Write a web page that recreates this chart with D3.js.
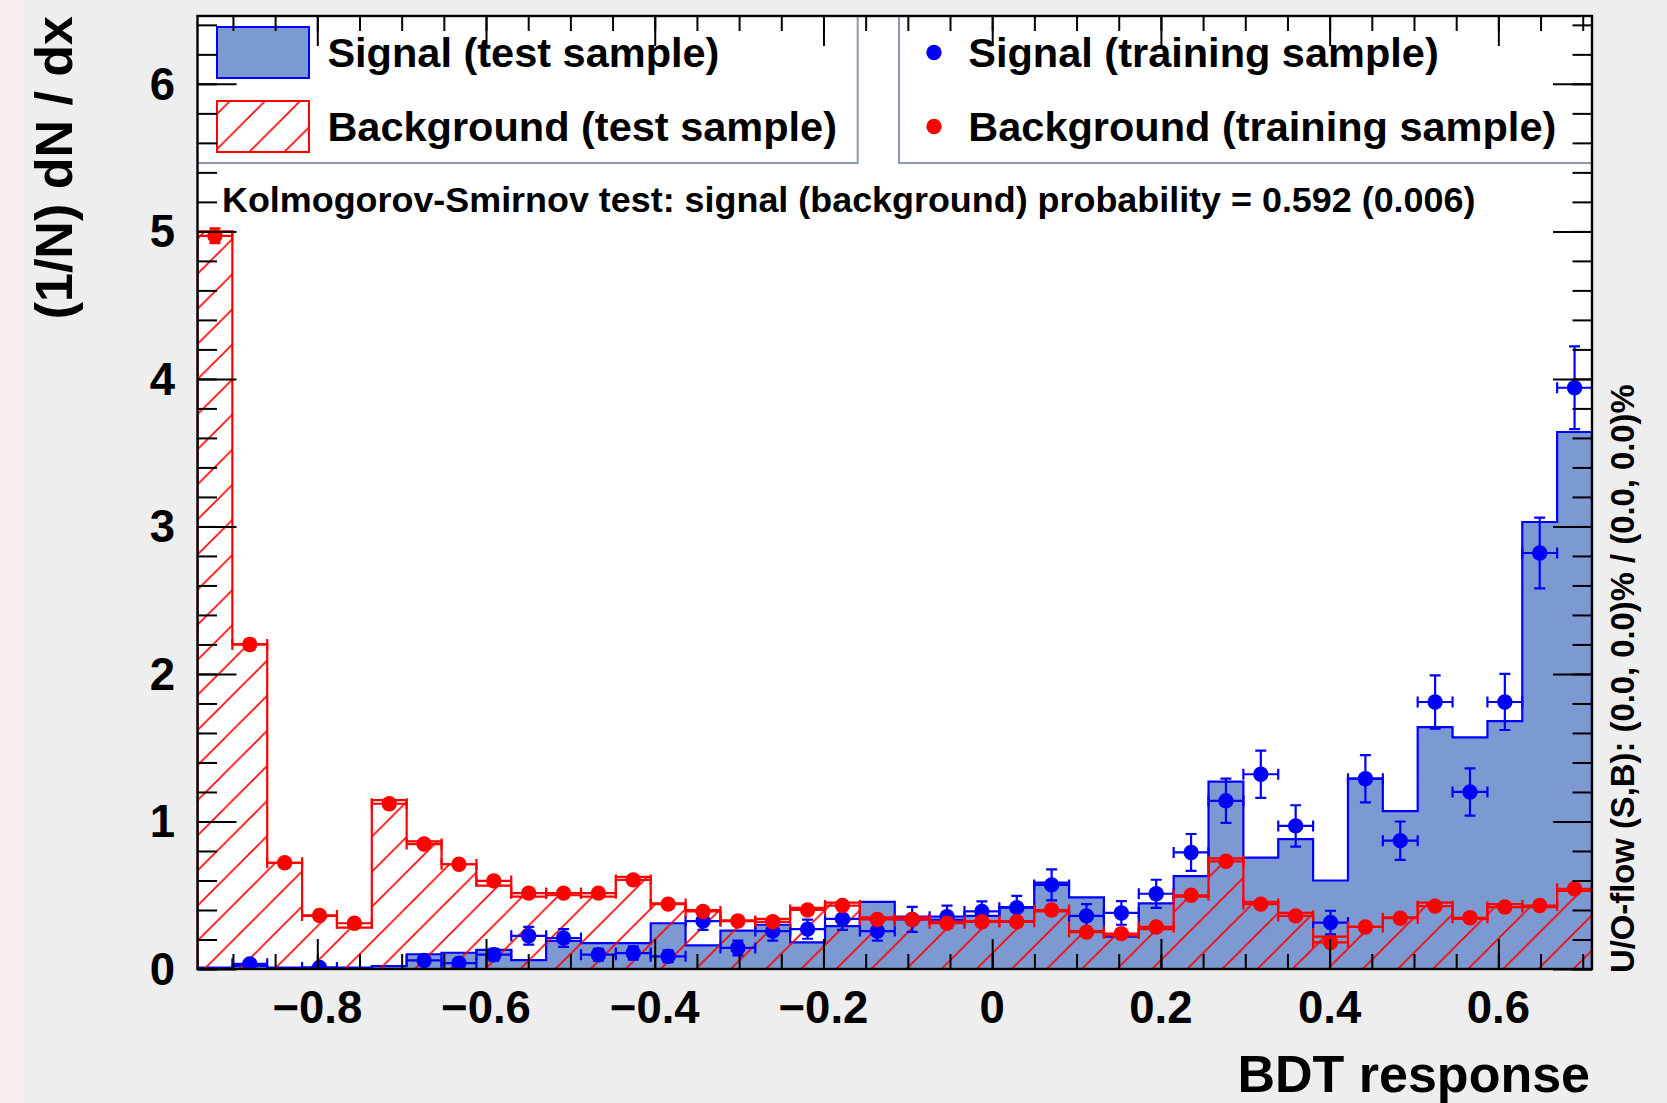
<!DOCTYPE html>
<html>
<head>
<meta charset="utf-8">
<script src="https://cdn.jsdelivr.net/npm/d3@7"></script>
<style>
  html, body { margin: 0; padding: 0; background: #eeeeee; }
  svg { display: block; }
  text { font-family: "Liberation Sans", Arial, Helvetica, sans-serif; font-weight: bold; fill: #000; }
</style>
</head>
<body>
<svg id="chart" width="1667" height="1103"></svg>
<script>
// ---- binning of the BDT response ----
const binLow = -0.942;
const binHigh = 0.711;
const nBins = 40;
const yMax = 6.46;

// ---- signal, test sample (normalised histogram) ----
const signalTest = [
  0.01, 0.02, 0.01, 0.01, 0.01, 0.02, 0.10, 0.11, 0.13, 0.06,
  0.19, 0.175, 0.175, 0.31, 0.16, 0.26, 0.30, 0.18, 0.29, 0.455,
  0.355, 0.335, 0.36, 0.42, 0.585, 0.485, 0.22, 0.445, 0.63, 1.27,
  0.755, 0.88, 0.60, 1.29, 1.07, 1.64, 1.57, 1.68, 3.03, 3.64
];

// ---- background, test sample (normalised histogram) ----
const backgroundTest = [
  5.00, 2.20, 0.72, 0.36, 0.28, 1.145, 0.865, 0.71, 0.565, 0.49,
  0.50, 0.49, 0.625, 0.445, 0.40, 0.33, 0.34, 0.415, 0.45, 0.35,
  0.35, 0.32, 0.325, 0.325, 0.39, 0.257, 0.227, 0.27, 0.49, 0.75,
  0.456, 0.38, 0.22, 0.285, 0.35, 0.45, 0.34, 0.44, 0.42, 0.53
];

// ---- signal, training sample (points, null = empty bin) ----
const signalTrain = [
  null, 0.035, null, 0.01, null, null, 0.058, 0.04, 0.097, 0.225,
  0.21, 0.097, 0.108, 0.086, 0.325, 0.143, 0.257, 0.27, 0.34, 0.257,
  0.336, 0.355, 0.39, 0.416, 0.57, 0.36, 0.38, 0.51, 0.79, 1.14,
  1.32, 0.97, 0.315, 1.29, 0.87, 1.81, 1.20, 1.81, 2.82, 3.94
];
const signalTrainErr = [
  0, 0.025, 0, 0.012, 0, 0, 0.03, 0.025, 0.04, 0.06,
  0.06, 0.04, 0.045, 0.04, 0.06, 0.05, 0.065, 0.065, 0.075, 0.065,
  0.085, 0.074, 0.068, 0.08, 0.105, 0.08, 0.08, 0.095, 0.125, 0.15,
  0.16, 0.14, 0.08, 0.16, 0.13, 0.18, 0.16, 0.19, 0.24, 0.28
];

// ---- background, training sample (points) ----
const backgroundTrain = [
  4.97, 2.20, 0.72, 0.363, 0.31, 1.12, 0.847, 0.71, 0.597, 0.514,
  0.514, 0.514, 0.604, 0.44, 0.39, 0.325, 0.32, 0.40, 0.43, 0.336,
  0.336, 0.31, 0.32, 0.32, 0.40, 0.25, 0.24, 0.285, 0.50, 0.73,
  0.44, 0.36, 0.18, 0.285, 0.344, 0.426, 0.347, 0.42, 0.43, 0.544
];
const backgroundTrainErr = [
  0.05, 0.035, 0.02, 0.015, 0.014, 0.025, 0.02, 0.02, 0.018, 0.017,
  0.017, 0.017, 0.018, 0.015, 0.015, 0.014, 0.014, 0.015, 0.016, 0.014,
  0.014, 0.013, 0.014, 0.014, 0.015, 0.012, 0.012, 0.013, 0.017, 0.02,
  0.015, 0.014, 0.01, 0.013, 0.014, 0.015, 0.014, 0.015, 0.015, 0.017
];

// ---- axis ticks and labels ----
const xMajorTicks = [-0.8, -0.6, -0.4, -0.2, 0, 0.2, 0.4, 0.6];
const xTickLabels = ["\u22120.8", "\u22120.6", "\u22120.4", "\u22120.2", "0", "0.2", "0.4", "0.6"];
const yMajorTicks = [0, 1, 2, 3, 4, 5, 6];
const yTickLabels = ["0", "1", "2", "3", "4", "5", "6"];

// ---- texts ----
const xTitle = "BDT response";
const yTitle = "(1/N) dN / dx";
const ksText = "Kolmogorov-Smirnov test: signal (background) probability = 0.592 (0.006)";
const flowText = "U/O-flow (S,B): (0.0, 0.0)% / (0.0, 0.0)%";
const legendLeft = ["Signal (test sample)", "Background (test sample)"];
const legendRight = ["Signal (training sample)", "Background (training sample)"];

// ---- styles ----
const sigFill = "#7d99d1", sigLine = "#0000ff", bkgLine = "#ff0000";
const frame = { left: 197.5, right: 1592, top: 16, bottom: 969 };

const svg = d3.select("#chart");
const x = d3.scaleLinear().domain([binLow, binHigh]).range([frame.left, frame.right]);
const y = d3.scaleLinear().domain([0, yMax]).range([frame.bottom, frame.top]);
const edges = d3.range(nBins + 1).map(i => binLow + i * (binHigh - binLow) / nBins);

// canvas
svg.append("rect").attr("width", 1667).attr("height", 1103).attr("fill", "#eeeeee");
svg.append("rect").attr("width", 23).attr("height", 1103).attr("fill", "#f5eeea");
svg.append("rect")
  .attr("x", frame.left).attr("y", frame.top)
  .attr("width", frame.right - frame.left).attr("height", frame.bottom - frame.top)
  .attr("fill", "#ffffff");

const defs = svg.append("defs");
defs.append("clipPath").attr("id", "plotClip").append("rect")
  .attr("x", frame.left).attr("y", frame.top)
  .attr("width", frame.right - frame.left).attr("height", frame.bottom - frame.top);

// 45 degree hatch for the background histogram
const P = 35.1;
const hatch = defs.append("pattern").attr("id", "hatch")
  .attr("patternUnits", "userSpaceOnUse")
  .attr("x", 15.1).attr("y", 0).attr("width", P).attr("height", P);
hatch.append("path")
  .attr("d", `M-2,2 L2,-2 M0,${P} L${P},0 M${P - 2},${P + 2} L${P + 2},${P - 2}`)
  .attr("stroke", bkgLine).attr("stroke-width", 1.6).attr("fill", "none");

// histograms
function stepPoints(vals) {
  const pts = [[edges[0], 0]];
  vals.forEach((v, i) => { pts.push([edges[i], v]); pts.push([edges[i + 1], v]); });
  pts.push([edges[nBins], 0]);
  return pts;
}
const stepLine = d3.line().x(d => x(d[0])).y(d => y(d[1]));
const plot = svg.append("g").attr("clip-path", "url(#plotClip)");

plot.append("path").attr("d", stepLine(stepPoints(signalTest)))
  .attr("fill", sigFill).attr("stroke", "none");
plot.append("path").attr("d", stepLine(stepPoints(signalTest)))
  .attr("fill", "none").attr("stroke", sigLine).attr("stroke-width", 2.2);
plot.append("path").attr("d", stepLine(stepPoints(backgroundTest)))
  .attr("fill", "url(#hatch)").attr("stroke", bkgLine).attr("stroke-width", 2.2);

// training points with error bars
const cap = 5.5, markerR = 7.7;
function drawPoints(vals, errs, color) {
  const g = plot.append("g").attr("stroke", color).attr("stroke-width", 2.2).attr("fill", color);
  vals.forEach((v, i) => {
    if (v === null) return;
    const cx = x((edges[i] + edges[i + 1]) / 2);
    const cy = y(v);
    const xl = x(edges[i]), xr = x(edges[i + 1]);
    const yt = y(v + errs[i]), yb = y(v - errs[i]);
    const p = d3.path();
    p.moveTo(xl, cy); p.lineTo(xr, cy);
    p.moveTo(xl, cy - cap); p.lineTo(xl, cy + cap);
    p.moveTo(xr, cy - cap); p.lineTo(xr, cy + cap);
    p.moveTo(cx, yt); p.lineTo(cx, yb);
    p.moveTo(cx - cap, yt); p.lineTo(cx + cap, yt);
    p.moveTo(cx - cap, yb); p.lineTo(cx + cap, yb);
    g.append("path").attr("d", p.toString()).attr("fill", "none");
    g.append("circle").attr("cx", cx).attr("cy", cy).attr("r", markerR).attr("stroke", "none");
  });
}
drawPoints(signalTrain, signalTrainErr, sigLine);
drawPoints(backgroundTrain, backgroundTrainErr, bkgLine);

// legends
const legBottom = 163;
const legStroke = "#8c99ae";
svg.append("path")
  .attr("d", `M${frame.left},${legBottom} L857.7,${legBottom} L857.7,${frame.top}`)
  .attr("fill", "none").attr("stroke", legStroke).attr("stroke-width", 2);
svg.append("path")
  .attr("d", `M899,${frame.top} L899,${legBottom} L${frame.right},${legBottom}`)
  .attr("fill", "none").attr("stroke", legStroke).attr("stroke-width", 2);

const rowY = [52.5, 126.5];
svg.append("rect").attr("x", 217).attr("y", rowY[0] - 25.5).attr("width", 92).attr("height", 51)
  .attr("fill", sigFill).attr("stroke", sigLine).attr("stroke-width", 2);
svg.append("rect").attr("x", 217).attr("y", rowY[1] - 25.5).attr("width", 92).attr("height", 51)
  .attr("fill", "url(#hatch)").attr("stroke", bkgLine).attr("stroke-width", 2);
legendLeft.forEach((t, i) => {
  svg.append("text").attr("x", 327.4).attr("y", rowY[i] + 14.8)
    .attr("font-size", 41.5).text(t);
});
[sigLine, bkgLine].forEach((c, i) => {
  svg.append("circle").attr("cx", 934).attr("cy", rowY[i]).attr("r", markerR).attr("fill", c);
});
legendRight.forEach((t, i) => {
  svg.append("text").attr("x", 968.3).attr("y", rowY[i] + 14.8)
    .attr("font-size", 41.5).text(t);
});

// KS test line
svg.append("text").attr("x", 222).attr("y", 212).attr("font-size", 35.9).text(ksText);

// axis ticks (inward, on all four sides)
const xMinor = d3.range(-18, 15).map(k => k * 0.05);
const yMinor = d3.range(0, 33).map(k => k * 0.2);
function tickAxis(axis, transform, values, size) {
  const g = svg.append("g").attr("transform", transform)
    .call(axis.tickValues(values).tickSize(size).tickSizeOuter(0).tickFormat(""));
  g.select(".domain").remove();
  g.selectAll(".tick line").attr("stroke", "#000").attr("stroke-width", 2);
  g.selectAll(".tick text").remove();
}
tickAxis(d3.axisBottom(x), `translate(0,${frame.bottom})`, xMinor, -15);
tickAxis(d3.axisBottom(x), `translate(0,${frame.bottom})`, xMajorTicks, -30);
tickAxis(d3.axisTop(x), `translate(0,${frame.top})`, xMinor, -15);
tickAxis(d3.axisTop(x), `translate(0,${frame.top})`, xMajorTicks, -30);
tickAxis(d3.axisLeft(y), `translate(${frame.left},0)`, yMinor, -19.5);
tickAxis(d3.axisLeft(y), `translate(${frame.left},0)`, yMajorTicks, -39);
tickAxis(d3.axisRight(y), `translate(${frame.right},0)`, yMinor, -19.5);
tickAxis(d3.axisRight(y), `translate(${frame.right},0)`, yMajorTicks, -39);

// frame
svg.append("rect")
  .attr("x", frame.left).attr("y", frame.top)
  .attr("width", frame.right - frame.left).attr("height", frame.bottom - frame.top)
  .attr("fill", "none").attr("stroke", "#000").attr("stroke-width", 2.4);

// tick labels
xMajorTicks.forEach((v, i) => {
  svg.append("text").attr("x", x(v)).attr("y", 1023).attr("text-anchor", "middle")
    .attr("font-size", 45.5).text(xTickLabels[i]);
});
yMajorTicks.forEach((v, i) => {
  svg.append("text").attr("x", 175).attr("y", y(v) + 16).attr("text-anchor", "end")
    .attr("font-size", 45.5).text(yTickLabels[i]);
});

// titles
svg.append("text").attr("x", 1590).attr("y", 1091.5).attr("text-anchor", "end")
  .attr("font-size", 52).text(xTitle);
svg.append("text").attr("transform", `translate(72,${frame.top}) rotate(-90)`)
  .attr("text-anchor", "end").attr("font-size", 52).text(yTitle);
svg.append("text").attr("transform", `translate(1634,973) rotate(-90)`)
  .attr("text-anchor", "start").attr("font-size", 32.8).text(flowText);
</script>
</body>
</html>
